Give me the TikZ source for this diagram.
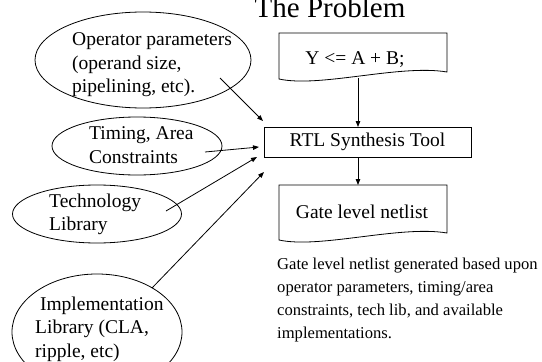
\documentclass[tikz,border=0pt]{standalone}
\usepackage{fontspec}
\setmainfont{Liberation Serif}
\usetikzlibrary{shapes.geometric,arrows.meta}

\begin{document}
\begin{tikzpicture}[x=1pt, y=-1pt,
  ell/.style = {draw, ellipse, line width=0.8pt, inner sep=0pt},
  etext/.style = {align=left, anchor=west, inner sep=0pt, font=\fontsize{19.5}{23.5}\selectfont},
  tool/.style = {draw, line width=0.8pt, minimum width=207pt, minimum height=30pt, font=\fontsize{19.5}{23.5}\selectfont},
  doc/.style = {inner sep=0pt, font=\fontsize{19.5}{23.5}\selectfont},
  arr/.style = {-{Triangle[length=6pt,width=4.5pt]}, line width=0.8pt}]
\useasboundingbox (0,0) rectangle (542,362);
\node[anchor=base, font=\fontsize{29}{34}\selectfont] (title) at (330,17) {The Problem};
% inputs
\node[ell, minimum width=216pt, minimum height=96pt] (op) at (143,60) {};
\node[etext] (optext) at (72,65) {Operator parameters\\(operand size,\\pipelining, etc).};
\node[ell, minimum width=170pt, minimum height=58pt] (tim) at (137,146) {};
\node[etext] (timtext) at (89,145) {Timing, Area\\Constraints};
\node[ell, minimum width=169pt, minimum height=58pt] (tech) at (97,214) {};
\node[etext] (techtext) at (49,214.5) {Technology\\Library};
\node[ell, minimum width=170pt, minimum height=116pt] (impl) at (97,332) {};
\node[etext] (impltext) at (35,329) {\ Implementation\\Library (CLA,\\ripple, etc)};
% flow
\draw[line width=0.8pt] (279,33) -- (447,33) -- (447,72) .. controls (400,64) and (320,88) .. (279,79) -- cycle;
\node[doc] (code) at (355,60) {Y <= A + B;};
\node[tool] (rtl) at (367.5,142) {RTL Synthesis Tool};
\draw[line width=0.8pt] (279,185) -- (447,185) -- (447,233) .. controls (400,225) and (320,249) .. (279,240) -- cycle;
\node[doc] (net) at (362,212) {Gate level netlist};
\coordinate (codeout) at (358,78);
\coordinate (rtlin) at (358,127);
\coordinate (rtlout) at (358,157);
\coordinate (netin) at (358,185);
\draw[arr] (codeout) -- (rtlin);
\draw[arr] (rtlout) -- (netin);
% tool inputs
\coordinate (opend) at (263,121);
\coordinate (timend) at (259,147);
\coordinate (techend) at (257,157);
\coordinate (implend) at (264,172);
\draw[arr] ([shift={(77,18)}]op.center) -- (opend);
\draw[arr] ([shift={(68,6)}]tim.center) -- (timend);
\draw[arr] ([shift={(69,-3)}]tech.center) -- (techend);
\draw[arr] ([shift={(55,-44)}]impl.center) -- (implend);
\node[align=left, anchor=west, inner sep=0pt, font=\fontsize{16.6}{23.3}\selectfont] (note) at (277,300)
  {Gate level netlist generated based upon\\operator parameters, timing/area\\constraints, tech lib, and available\\implementations.};
\end{tikzpicture}
\end{document}
